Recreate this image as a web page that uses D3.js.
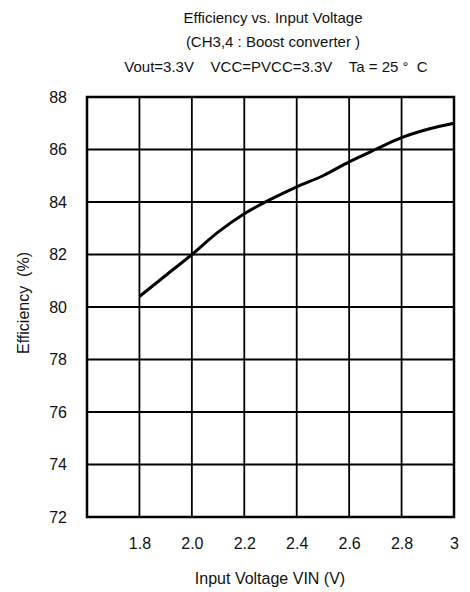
<!DOCTYPE html>
<html>
<head>
<meta charset="utf-8">
<script src="https://d3js.org/d3.v7.min.js"></script>
<style>
  html, body { margin: 0; padding: 0; background: #fff; }
  svg { display: block; font-family: "Liberation Sans", Arial, sans-serif; }
</style>
</head>
<body>
<svg id="chart" width="470" height="592"></svg>
<script>
// ---- data ----
const titleLines = [
  "Efficiency vs. Input Voltage",
  "(CH3,4 : Boost converter )",
  "Vout=3.3V    VCC=PVCC=3.3V    Ta = 25 \u00B0  C"
];
const xLabel = "Input Voltage VIN (V)";
const yLabel = "Efficiency  (%)";
const vin = [1.8, 1.9, 2.0, 2.1, 2.2, 2.3, 2.4, 2.5, 2.6, 2.7, 2.8, 2.9, 3.0];
const efficiency = [80.4, 81.2, 82.0, 82.85, 83.55, 84.1, 84.58, 85.0, 85.53, 86.0, 86.45, 86.77, 87.0];
const xTickValues = [1.8, 2.0, 2.2, 2.4, 2.6, 2.8, 3.0];
const xTickLabels = ["1.8", "2.0", "2.2", "2.4", "2.6", "2.8", "3"];
const yTickValues = [72, 74, 76, 78, 80, 82, 84, 86, 88];

(function () {
// ---- layout ----
const svg = d3.select("#chart");
const pLeft = 87, pRight = 454, pTop = 97, pBottom = 517;

const x = d3.scaleLinear().domain([1.6, 3.0]).range([pLeft, pRight]);
const y = d3.scaleLinear().domain([72, 88]).range([pBottom, pTop]);

// title
const tl = [18, 42, 67];
svg.append("g").selectAll("text").data(titleLines).join("text")
  .attr("x", (d, i) => i === 2 ? 276 : 273).attr("y", (d, i) => tl[i])
  .attr("dy", "0.35em")
  .attr("text-anchor", "middle")
  .attr("font-size", 15)
  .attr("fill", "#111")
  .style("white-space", "pre")
  .text(d => d);

// grid
const grid = svg.append("g");
grid.selectAll("line.v").data(xTickValues.slice(0, -1)).join("line")
  .attr("class", "v")
  .attr("x1", d => x(d)).attr("x2", d => x(d))
  .attr("y1", pTop).attr("y2", pBottom)
  .attr("stroke", "#000").attr("stroke-width", 1.8);
grid.selectAll("line.h").data(yTickValues.slice(1, -1)).join("line")
  .attr("class", "h")
  .attr("x1", pLeft).attr("x2", pRight)
  .attr("y1", d => y(d)).attr("y2", d => y(d))
  .attr("stroke", "#000").attr("stroke-width", 1.8);

// frame
svg.append("rect")
  .attr("x", pLeft).attr("y", pTop)
  .attr("width", pRight - pLeft).attr("height", pBottom - pTop)
  .attr("fill", "none").attr("stroke", "#000").attr("stroke-width", 2.5);

// axes labels via d3 axes (no domain/tick lines)
const xAxis = d3.axisBottom(x).tickValues(xTickValues)
  .tickFormat((d, i) => xTickLabels[i]).tickSize(0).tickPadding(0);
const gx = svg.append("g").attr("transform", `translate(0, ${pBottom + 21})`).call(xAxis);
gx.select(".domain").remove();
gx.selectAll("text").attr("font-size", 16).attr("fill", "#111")
  .attr("font-family", "Liberation Sans, Arial, sans-serif");

const yAxis = d3.axisLeft(y).tickValues(yTickValues).tickFormat(d3.format("d"))
  .tickSize(0).tickPadding(20);
const gy = svg.append("g").attr("transform", `translate(${pLeft}, 0)`).call(yAxis);
gy.select(".domain").remove();
gy.selectAll("text").attr("font-size", 16).attr("fill", "#111")
  .attr("font-family", "Liberation Sans, Arial, sans-serif");

// axis titles
svg.append("text")
  .attr("x", 270).attr("y", 578).attr("dy", "0.35em")
  .attr("text-anchor", "middle").attr("font-size", 16).attr("fill", "#111")
  .text(xLabel);
svg.append("text")
  .attr("transform", `translate(23, ${(pTop + pBottom) / 2 - 4}) rotate(-90)`)
  .attr("dy", "0.35em")
  .attr("text-anchor", "middle").attr("font-size", 16).attr("fill", "#111")
  .style("white-space", "pre")
  .text(yLabel);

// curve
const line = d3.line().x((d, i) => x(vin[i])).y(d => y(d)).curve(d3.curveMonotoneX);
svg.append("path")
  .datum(efficiency)
  .attr("d", line)
  .attr("fill", "none").attr("stroke", "#000").attr("stroke-width", 3);
})();
</script>
</body>
</html>
